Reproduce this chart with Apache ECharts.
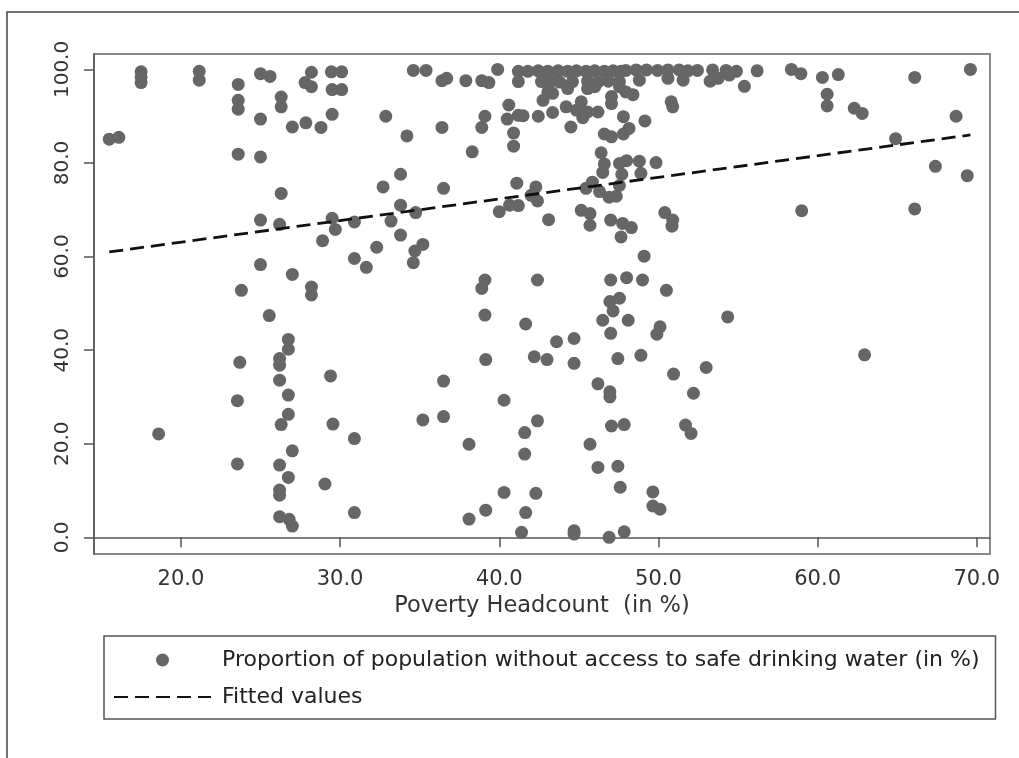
<!DOCTYPE html>
<html>
<head>
<meta charset="utf-8">
<script src="https://cdn.jsdelivr.net/npm/echarts@6/dist/echarts.min.js"></script>
<style>
  html, body { margin: 0; padding: 0; background: #fff; }
  #chart { width: 1019px; height: 758px; }
</style>
</head>
<body>
<div id="chart"></div>
<script>
// Poverty headcount (x) and share without safe drinking water (y)
const povertyHeadcount = [
  15.5, 16.1, 17.5, 17.5, 17.5, 21.15, 21.15, 18.6,
  23.6, 23.6, 23.6, 23.6, 23.8, 23.7, 23.55, 23.55,
  25.0, 25.6, 25.0, 25.0, 25.0, 25.0, 25.55,
  26.3, 26.3, 26.3, 26.2, 26.2, 26.2, 26.2, 26.75, 26.75, 26.3, 26.2, 26.2, 26.2, 26.2, 26.8, 27.0,
  26.75, 26.75, 27.0, 26.75, 27.0, 27.0,
  27.85, 28.2, 27.8, 28.2, 28.2, 28.2, 28.8, 28.9, 29.05,
  29.45, 30.1, 29.5, 30.1, 29.5, 29.5, 29.7, 29.4, 29.55,
  30.9, 30.9, 30.9, 30.9, 31.65, 32.3, 32.7, 32.87, 33.2, 33.8, 33.8, 33.8,
  34.2, 34.6, 35.4, 34.75, 35.2, 34.7, 34.6, 35.2,
  36.4, 36.7, 36.4, 36.5, 36.5, 36.5,
  37.9, 38.9, 39.35, 39.9, 38.9, 39.1, 38.3,
  39.1, 38.9, 39.1, 39.15, 38.1, 38.1, 39.15,
  40.3, 40.3, 40.0, 40.65, 41.2, 41.66, 41.6, 41.6, 41.66, 41.4,
  41.2, 41.8, 42.45, 43.05, 43.7, 44.3, 44.85, 45.45, 46.0, 46.6, 47.15, 47.65,
  41.2, 42.65, 43.25, 43.8, 44.6, 45.55, 46.2, 46.85, 47.55,
  44.3, 45.55, 46.0, 43.05, 47.55,
  42.75, 43.35, 45.15, 47.05, 47.95,
  40.6, 44.2, 44.85, 45.55, 46.2, 47.05,
  40.5, 41.2, 41.5, 42.45, 43.35, 45.25, 47.8,
  44.5, 40.9, 46.6, 47.05, 47.8, 48.15,
  40.9, 46.4,
  46.6, 46.5, 47.55, 48.0, 47.7,
  41.1, 45.85,
  42.0, 42.4, 42.3, 45.45, 46.3, 46.9, 47.35, 47.55,
  45.15, 45.7, 45.7, 43.1, 47.0, 47.75, 48.3, 50.4, 50.9, 50.85, 47.65, 49.1,
  42.4, 47.0, 48.0, 49.0, 50.5, 47.55, 46.95,
  47.15, 46.5, 48.1, 47.0, 50.1, 49.9, 54.35, 43.6, 44.7, 44.7, 42.2, 43.0,
  47.45, 48.9, 50.95, 53.0, 52.2, 46.2, 46.95, 46.95,
  42.4, 47.05, 47.85, 51.7, 52.05, 45.7, 46.2, 47.45, 47.6,
  49.65, 49.65, 50.1, 42.3, 44.7, 44.7, 46.9, 47.85,
  47.95, 48.6, 49.25, 49.95, 50.6, 51.3, 51.85, 52.45, 53.4, 54.25, 54.9,
  48.8, 50.6, 51.55, 53.25, 53.75, 54.45, 55.4,
  48.4, 50.8, 50.9, 49.15, 48.8, 49.85, 48.9,
  56.2, 58.35, 58.95, 60.3, 61.3, 60.6, 60.6, 62.3, 62.8,
  66.1, 69.6, 68.7, 64.9, 67.4, 69.4, 59.0, 66.1, 62.95
];
const noSafeWater = [
  85.1, 85.5, 99.5, 98.4, 97.2, 99.6, 97.7, 22.1,
  96.8, 93.4, 91.5, 81.9, 52.8, 37.4, 29.2, 15.7,
  99.1, 98.5, 89.4, 81.3, 67.8, 58.3, 47.4,
  94.1, 92.0, 73.5, 66.9, 38.2, 36.8, 33.6, 30.4, 26.3, 24.1, 15.45, 10.1, 9.0, 4.4, 3.85, 2.4,
  42.3, 40.2, 18.5, 12.8, 87.7, 56.2,
  88.6, 99.4, 97.2, 96.3, 53.5, 51.8, 87.6, 63.4, 11.4,
  99.5, 99.5, 95.7, 95.7, 90.4, 68.2, 65.8, 34.5, 24.2,
  67.4, 59.6, 21.1, 5.3, 57.7, 62.0, 74.9, 90.0, 67.6, 77.6, 71.0, 64.6,
  85.8, 99.8, 99.8, 69.4, 62.6, 61.2, 58.7, 25.1,
  97.6, 98.1, 87.6, 74.6, 33.4, 25.8,
  97.6, 97.6, 97.2, 100.0, 87.6, 90.0, 82.4,
  55.0, 53.2, 47.5, 38.0, 19.9, 3.9, 5.8,
  29.3, 9.6, 69.6, 71.0, 70.9, 45.6, 22.4, 17.8, 5.3, 1.07,
  99.6, 99.6, 99.7, 99.6, 99.7, 99.6, 99.7, 99.6, 99.7, 99.6, 99.7, 99.6,
  97.4, 97.4, 97.5, 97.3, 97.4, 97.5, 97.3, 97.5, 97.4,
  95.9, 95.9, 96.3, 95.2, 96.3,
  93.4, 94.9, 93.1, 94.2, 95.2,
  92.4, 92.0, 91.3, 90.9, 90.9, 92.7,
  89.4, 90.2, 90.1, 90.0, 90.8, 89.7, 89.9,
  87.7, 86.4, 86.2, 85.6, 86.2, 87.4,
  83.6, 82.2,
  79.8, 78.0, 79.9, 80.5, 77.6,
  75.7, 75.9,
  73.1, 71.9, 74.9, 74.6, 73.9, 72.7, 72.9, 75.2,
  69.9, 69.2, 66.7, 67.9, 67.8, 67.1, 66.2, 69.4, 67.8, 66.5, 64.2, 60.1,
  55.0, 55.0, 55.5, 55.0, 52.8, 51.1, 50.4,
  48.4, 46.4, 46.4, 43.6, 45.0, 43.4, 47.1, 41.8, 42.5, 37.2, 38.6, 38.0,
  38.2, 38.9, 34.9, 36.3, 30.8, 32.8, 31.1, 30.0,
  24.9, 23.8, 24.1, 24.0, 22.2, 19.9, 14.95, 15.2, 10.7,
  9.7, 6.7, 6.0, 9.4, 1.4, 0.7, 0.0, 1.2,
  99.8, 99.9, 99.9, 99.8, 99.9, 99.9, 99.7, 99.8, 99.9, 99.8, 99.6,
  97.7, 98.1, 97.7, 97.5, 98.1, 98.8, 96.4,
  94.6, 93.1, 92.0, 89.0, 80.4, 80.1, 77.8,
  99.7, 100.0, 99.1, 98.3, 98.9, 94.7, 92.2, 91.7, 90.6,
  98.3, 100.0, 90.0, 85.2, 79.3, 77.3, 69.8, 70.2, 39.0
];

// Fitted regression line end points
const fitX = [15.5, 69.6];
const fitY = [61.0, 86.0];

const xTicks = [20, 30, 40, 50, 60, 70];
const yTicks = [0, 20, 40, 60, 80, 100];

const scatterName = "Proportion of population without access to safe drinking water (in %)";
const fitName = "Fitted values";
const xTitle = "Poverty Headcount  (in %)";

const font = "'DejaVu Sans', Verdana, sans-serif";
const chart = echarts.init(document.getElementById("chart"));

chart.setOption({
  animation: false,
  backgroundColor: "#fff",
  textStyle: { fontFamily: font },
  graphic: [
    {
      type: "rect",
      silent: true,
      shape: { x: 7, y: 12, width: 1100, height: 900 },
      style: { fill: "none", stroke: "#444", lineWidth: 1.5 }
    }
  ],
  grid: {
    left: 94, top: 54, right: 29, bottom: 204,
    show: true, borderColor: "#666", borderWidth: 1.5
  },
  xAxis: {
    type: "value",
    min: 14.54, max: 70.83,
    name: xTitle,
    nameLocation: "middle",
    nameGap: 41,
    nameTextStyle: { fontSize: 22.5, color: "#333", fontFamily: font },
    axisLine: { lineStyle: { color: "#555", width: 1.5 } },
    axisTick: { length: 10, customValues: xTicks, lineStyle: { color: "#555", width: 1.5 } },
    axisLabel: {
      customValues: xTicks, fontSize: 21, color: "#333", margin: 15,
      formatter: (v) => v.toFixed(1)
    },
    splitLine: { show: false }
  },
  yAxis: {
    type: "value",
    min: -3.56, max: 103.3,
    axisLine: { show: true, lineStyle: { color: "#555", width: 1.5 } },
    axisTick: { show: true, length: 10, customValues: yTicks, lineStyle: { color: "#555", width: 1.5 } },
    axisLabel: {
      customValues: yTicks, fontSize: 20, color: "#333", margin: 21, rotate: 90,
      formatter: (v) => v.toFixed(1)
    },
    splitLine: { show: false }
  },
  legend: {
    left: 104, top: 636,
    orient: "vertical",
    padding: [12, 16, 10, 9],
    itemWidth: 97, itemHeight: 13, itemGap: 13,
    borderColor: "#555", borderWidth: 1.5,
    textStyle: { fontSize: 22, color: "#222", lineHeight: 24, padding: [0, 0, 0, 6] },
    data: [scatterName, fitName]
  },
  series: [
    {
      name: scatterName,
      type: "scatter",
      symbol: "circle",
      symbolSize: 13,
      itemStyle: { color: "#666", opacity: 1 },
      data: povertyHeadcount.map((x, i) => [x, noSafeWater[i]])
    },
    {
      name: fitName,
      type: "line",
      symbol: "none",
      itemStyle: { color: "rgba(0,0,0,0)" },
      lineStyle: { color: "#111", width: 2.8, type: [14, 7] },
      data: fitX.map((x, i) => [x, fitY[i]])
    }
  ]
});
</script>
</body>
</html>
